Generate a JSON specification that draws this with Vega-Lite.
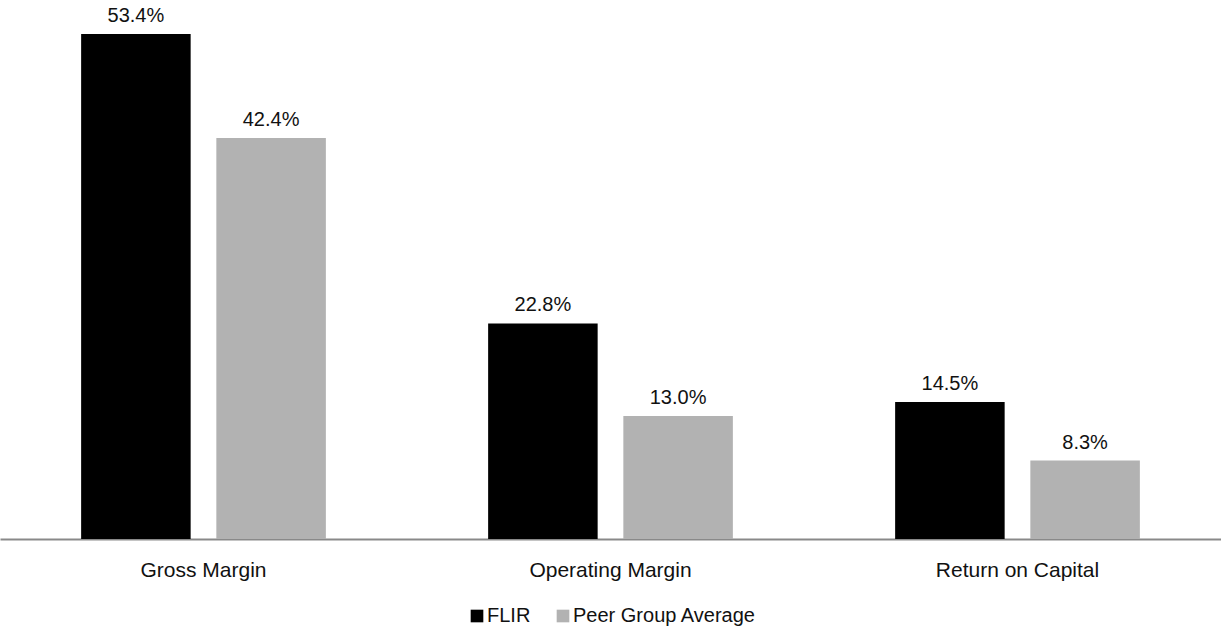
{
  "$schema": "https://vega.github.io/schema/vega-lite/v6.json",
  "width": 1221,
  "height": 539,
  "autosize": {"type": "none"},
  "padding": {"left": 0, "right": 0, "top": 0, "bottom": 89},
  "background": "white",
  "config": {
    "view": {"stroke": null},
    "font": "Liberation Sans, Arial, sans-serif"
  },
  "data": {
    "values": [
      {"metric": "Gross Margin", "series": "FLIR", "value": 0.534},
      {"metric": "Gross Margin", "series": "Peer Group Average", "value": 0.424},
      {"metric": "Operating Margin", "series": "FLIR", "value": 0.228},
      {"metric": "Operating Margin", "series": "Peer Group Average", "value": 0.130},
      {"metric": "Return on Capital", "series": "FLIR", "value": 0.145},
      {"metric": "Return on Capital", "series": "Peer Group Average", "value": 0.083}
    ]
  },
  "encoding": {
    "x": {
      "field": "metric",
      "type": "nominal",
      "sort": null,
      "scale": {"paddingInner": 0, "paddingOuter": 0},
      "axis": {
        "title": null,
        "labelAngle": 0,
        "ticks": false,
        "tickSize": 0,
        "labelPadding": 20,
        "labelFontSize": 21,
        "labelFont": "Liberation Sans, Arial, sans-serif",
        "labelColor": "#111111",
        "domainColor": "#898989",
        "domainWidth": 2,
        "grid": false
      }
    },
    "xOffset": {
      "field": "series",
      "type": "nominal",
      "scale": {"paddingInner": 0.19, "paddingOuter": 0.6}
    },
    "y": {
      "field": "value",
      "type": "quantitative",
      "scale": {"domain": [0, 0.57], "nice": false},
      "axis": null
    }
  },
  "layer": [
    {
      "mark": {"type": "bar"},
      "encoding": {
        "color": {
          "field": "series",
          "type": "nominal",
          "scale": {"domain": ["FLIR", "Peer Group Average"], "range": ["#000000", "#b2b2b2"]},
          "legend": {
            "title": null,
            "orient": "none",
            "legendX": 467,
            "legendY": 606,
            "direction": "horizontal",
            "padding": 0,
            "symbolType": "square",
            "symbolSize": 160,
            "symbolStrokeWidth": 0,
            "labelFont": "Liberation Sans, Arial, sans-serif",
            "labelFontSize": 20,
            "labelColor": "#111111",
            "labelOffset": 0,
            "columnPadding": 22,
            "labelLimit": 400
          }
        }
      }
    },
    {
      "mark": {"type": "text", "baseline": "alphabetic", "dy": -12, "fontSize": 20, "font": "Liberation Sans, Arial, sans-serif", "color": "#111111"},
      "encoding": {
        "text": {"field": "value", "type": "quantitative", "format": ".1%"},
        "detail": {"field": "series"}
      }
    }
  ]
}
